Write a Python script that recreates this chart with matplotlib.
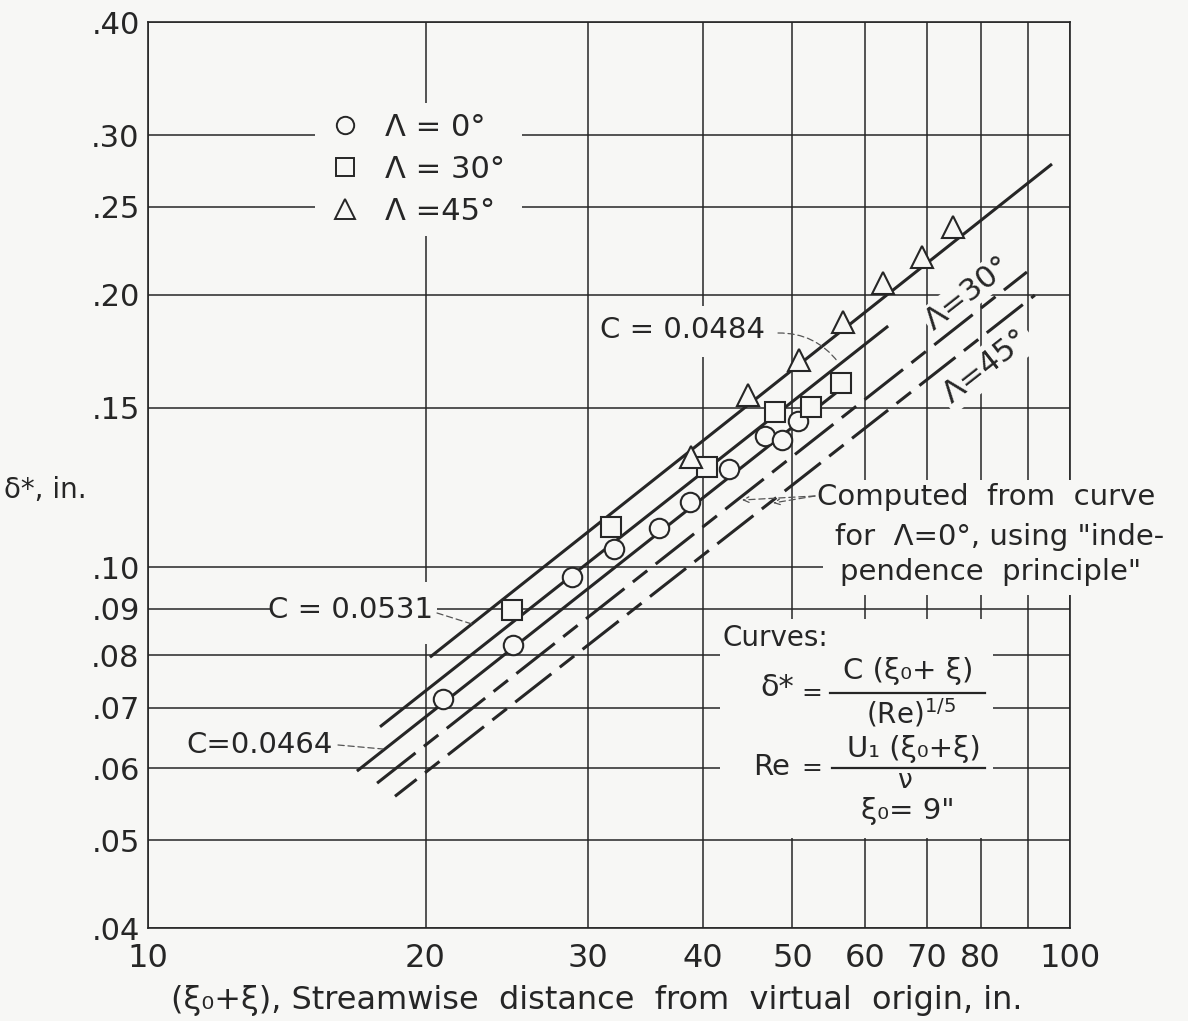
import matplotlib
matplotlib.use('Agg')
import matplotlib.pyplot as plt
from matplotlib.lines import Line2D
from matplotlib.patches import Rectangle
from matplotlib.ticker import NullLocator

W, H = 1188, 1021
BG = '#f7f7f5'
INK = '#262626'

plt.rcParams['font.family'] = ['DejaVu Sans']

# ---------------- data ----------------
x_lam0 = [20.9, 24.9, 28.8, 32.0, 35.8, 38.7, 42.7, 46.7, 48.7, 50.7]
y_lam0 = [0.0716, 0.0821, 0.0976, 0.1048, 0.1106, 0.1181, 0.1285, 0.1397, 0.1383, 0.1451]

x_lam30 = [24.8, 31.8, 40.4, 47.9, 52.4, 56.4]
y_lam30 = [0.0898, 0.1108, 0.1291, 0.1484, 0.1503, 0.1598]

x_lam45 = [38.8, 44.8, 50.8, 56.7, 62.7, 69.1, 74.7]
y_lam45 = [0.1324, 0.1550, 0.1694, 0.1866, 0.2061, 0.2202, 0.2375]

# curve end points: C=0.0531 (45), C=0.0484 (30), C=0.0464 (0), computed 30, computed 45
curve_names = ['C0531', 'C0484', 'C0464', 'comp30', 'comp45']
curve_x_start = [20.22, 17.85, 16.85, 17.72, 18.53]
curve_x_end = [95.6, 63.5, 56.7, 89.8, 91.6]
curve_y_start = [0.0796, 0.0667, 0.0596, 0.0578, 0.0559]
curve_y_end = [0.2788, 0.1847, 0.1580, 0.2119, 0.1998]

legend_labels = ['\u039b = 0\u00b0', '\u039b = 30\u00b0', '\u039b =45\u00b0']

xticks = [10, 20, 30, 40, 50, 60, 70, 80, 90, 100]
xticklabels = ['10', '20', '30', '40', '50', '60', '70', '80', '', '100']
yticks = [0.04, 0.05, 0.06, 0.07, 0.08, 0.09, 0.10, 0.15, 0.20, 0.25, 0.30, 0.40]
yticklabels = ['.04', '.05', '.06', '.07', '.08', '.09', '.10', '.15', '.20', '.25', '.30', '.40']

# ---------------- figure ----------------
fig = plt.figure(figsize=(W / 100, H / 100), dpi=100, facecolor=BG)
ax = fig.add_axes([148 / W, 1 - 928 / H, (1070 - 148) / W, (928 - 22) / H], facecolor=BG)
ax.set_xscale('log')
ax.set_yscale('log')
ax.set_xlim(10, 100)
ax.set_ylim(0.04, 0.40)
ax.set_xticks(xticks, xticklabels)
ax.set_yticks(yticks, yticklabels)
ax.xaxis.set_minor_locator(NullLocator())
ax.yaxis.set_minor_locator(NullLocator())
ax.tick_params(axis='x', length=0, labelsize=23, pad=11, colors=INK)
ax.tick_params(axis='y', length=0, labelsize=22, pad=6, colors=INK)
ax.grid(True, which='major', color=INK, lw=1.1)
ax.set_axisbelow(True)
for sp in ax.spines.values():
    sp.set_color(INK)
    sp.set_linewidth(1.2)


def mask(x0, y0, x1, y1, z=1.2):
    ax.add_patch(Rectangle((x0 / W, 1 - y1 / H), (x1 - x0) / W, (y1 - y0) / H,
                           transform=fig.transFigure, fc=BG, ec='none',
                           zorder=z, clip_on=False))


# breaks in the grid behind lettering
mask(315, 103, 522, 236)      # legend
mask(596, 306, 778, 357)      # C = 0.0484
mask(272, 582, 437, 644)      # C = 0.0531
mask(823, 480, 1188, 595, z=2.7)  # computed from curve ... (breaks right spine)
mask(720, 619, 993, 838)      # formula block

# ---------------- curves ----------------
styles = ['-', '-', '-', (0, (16, 3.5, 6, 3.5)), (6, (15, 3.5, 6, 3.5))]
for xs, xe, ys, ye, ls in zip(curve_x_start, curve_x_end, curve_y_start, curve_y_end, styles):
    ax.plot([xs, xe], [ys, ye], color=INK, lw=2.2, ls=ls, zorder=3,
            solid_capstyle='butt', dash_capstyle='butt')

mk = dict(ls='none', mfc=BG, mec=INK, mew=1.5, zorder=4)
ax.plot(x_lam0, y_lam0, marker='o', ms=14, **mk)
ax.plot(x_lam30, y_lam30, marker='s', ms=14, **mk)
ax.plot(x_lam45, y_lam45, marker='^', ms=16, **mk)

# ---------------- legend ----------------
handles = [Line2D([], [], ls='none', marker='o', ms=12.5, mfc=BG, mec=INK, mew=1.4),
           Line2D([], [], ls='none', marker='s', ms=12.5, mfc=BG, mec=INK, mew=1.4),
           Line2D([], [], ls='none', marker='^', ms=14, mfc=BG, mec=INK, mew=1.4)]
fig.legend(handles, legend_labels, loc='upper left', bbox_to_anchor=(330 / W, 1 - 113 / H),
           frameon=False, fontsize=22, handlelength=1.0, handletextpad=0.8,
           labelspacing=0.42, borderpad=0, borderaxespad=0, labelcolor=INK)


def T(x, y, s, size=21, ha='left', va='center', **kw):
    fig.text(x / W, 1 - y / H, s, fontsize=size, ha=ha, va=va, color=INK, **kw)


def leader(x0, y0, x1, y1, rad=0.0, arrow=False):
    ax.annotate('', xy=(x1, H - y1), xycoords='figure pixels',
                xytext=(x0, H - y0), textcoords='figure pixels',
                arrowprops=dict(arrowstyle='->' if arrow else '-', color='#555555',
                                lw=0.9, linestyle=(0, (5, 3)),
                                connectionstyle=f'arc3,rad={rad}',
                                shrinkA=0, shrinkB=0), zorder=5)


# curve labels
T(600, 330, 'C = 0.0484')
leader(778, 333, 838, 362, rad=-0.25)
T(433, 610, 'C = 0.0531', ha='right')
leader(437, 613, 472, 624)
T(333, 745, 'C=0.0464', ha='right')
leader(338, 745, 383, 749)

ax.text(968 / W, 1 - 293 / H, '\u039b=30\u00b0', transform=fig.transFigure, fontsize=22,
        rotation=38, ha='center', va='center', color=INK, zorder=3.5,
        bbox=dict(fc=BG, ec='none', pad=1))
ax.text(986 / W, 1 - 366 / H, '\u039b=45\u00b0', transform=fig.transFigure, fontsize=22,
        rotation=38, ha='center', va='center', color=INK, zorder=2.6,
        bbox=dict(fc=BG, ec='none', pad=3))

# computed-from-curve note
T(817, 497, 'Computed  from  curve')
T(835, 537, 'for  \u039b=0\u00b0, using "inde-')
T(840, 572, 'pendence  principle"')
leader(815, 496, 742, 500, arrow=True)
leader(815, 496, 773, 503, arrow=True)

# formula block
T(722, 638, 'Curves:', size=20)
T(777, 688, '\u03b4*', size=22, ha='center')
T(812, 693, '=', size=18, ha='center')
T(908, 671, 'C (\u03be\u2080+ \u03be)', size=21, ha='center')
fig.add_artist(Line2D([830 / W, 985 / W], [1 - 693 / H, 1 - 693 / H], color=INK, lw=1.6))
T(911, 713, '(Re)$^{1/5}$', size=20, ha='center')
T(772, 767, 'Re', size=21, ha='center')
T(812, 768, '=', size=18, ha='center')
T(914, 749, 'U\u2081 (\u03be\u2080+\u03be)', size=21, ha='center')
fig.add_artist(Line2D([832 / W, 985 / W], [1 - 768 / H, 1 - 768 / H], color=INK, lw=1.6))
T(905, 781, '\u03bd', size=19, ha='center')
T(908, 811, '\u03be\u2080= 9"', size=21, ha='center')

# axis titles
T(4, 490, '\u03b4*, in.', size=20)
T(597, 1000, '(\u03be\u2080+\u03be), Streamwise  distance  from  virtual  origin, in.', size=23, ha='center')

fig.savefig('out.png', dpi=100, facecolor=BG)
